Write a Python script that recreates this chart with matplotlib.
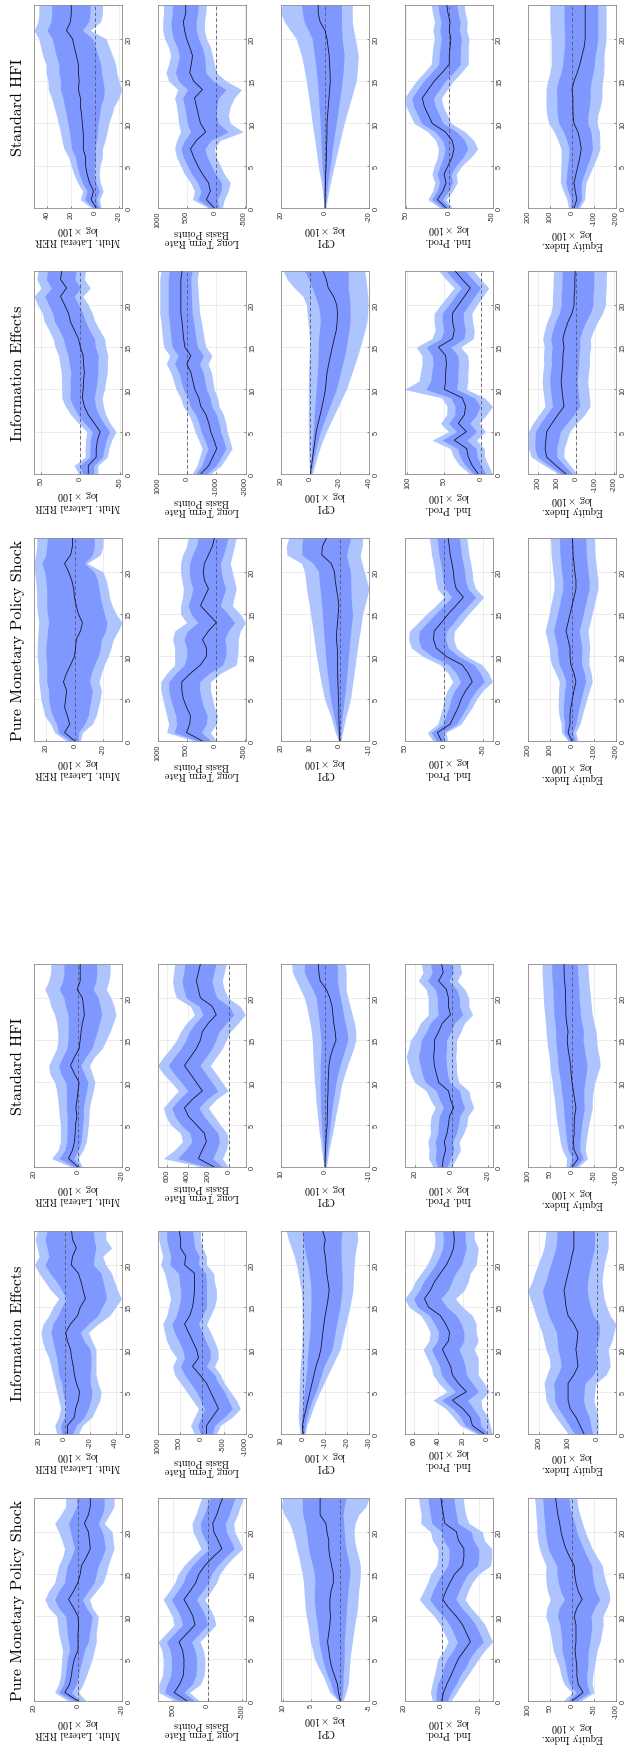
import numpy as np
import matplotlib.pyplot as plt

plt.rcParams['mathtext.fontset'] = 'cm'
plt.rcParams['axes.unicode_minus'] = False
plt.rcParams['font.family'] = ['Liberation Sans', 'DejaVu Sans']

# horizon (months) 0..24
horizon = np.arange(25)
h_ticks = [0, 5, 10, 15, 20]

# ---------------- sample A (lower half of the page) ----------------
# Pure Monetary Policy Shock
a_pm_rer_med = [0, 6, 3.8, 3, 2.5, 1.6, 0, 0, 0, -0.3, 0, 2, 4.3, 2, 0, -1, -1.6, -3.8, -5.6, -5.2, -4.7, -2.9, -4.7, -5.6, -5.6]
a_pm_rer_hi68 = [2, 8.8, 6.5, 5.8, 5.2, 4.9, 3.8, 4.3, 4.9, 5.2, 5.6, 8.8, 10.6, 8.8, 6.1, 5.6, 4.9, 3, 1.6, 2.5, 3.4, 4.3, 2.5, 0.7, 0.7]
a_pm_rer_lo68 = [-1, 3, 0.7, -0.2, -1, -2, -2.9, -4.7, -5.2, -5.9, -6.5, -3.8, -2, -4.7, -7.4, -8.3, -9.2, -11, -12.4, -11.9, -11, -9.2, -11, -11.9, -11.9]
a_pm_rer_hi90 = [4.3, 10.6, 8.8, 7.9, 7.6, 7.4, 7, 7.9, 8.8, 9.2, 9.7, 13.3, 15.1, 13.3, 10.6, 9.7, 8.8, 7, 6.1, 7.4, 8.8, 10.6, 7.9, 5.6, 5.6]
a_pm_rer_lo90 = [-3.8, -0.2, -2.3, -3.8, -5.2, -6.5, -7.4, -8.3, -8.3, -8.8, -9.2, -6.5, -5.2, -8.3, -11.4, -12.8, -13.7, -15, -16.4, -15.9, -15.5, -11.9, -14.3, -16.4, -16.4]

a_pm_ltr_med = [295, 480, 400, 350, 340, 340, 360, 410, 295, 180, 210, 270, 340, 250, 170, 125, 40, -75, -205, -150, -90, -75, -130, -170, -215]
a_pm_ltr_hi68 = [405, 620, 580, 530, 520, 520, 540, 590, 475, 360, 390, 450, 520, 430, 350, 305, 220, 105, -25, 30, 90, 105, 50, 10, -35]
a_pm_ltr_lo68 = [185, 340, 220, 170, 160, 160, 180, 230, 115, 0, 30, 90, 160, 70, -10, -55, -140, -255, -385, -330, -270, -255, -310, -350, -395]
a_pm_ltr_hi90 = [475, 700, 700, 650, 640, 640, 660, 710, 595, 480, 510, 570, 640, 550, 470, 425, 340, 225, 95, 150, 210, 225, 170, 130, 85]
a_pm_ltr_lo90 = [115, 260, 100, 50, 40, 40, 60, 110, -5, -120, -90, -30, 40, -50, -130, -175, -260, -375, -505, -450, -390, -375, -430, -470, -515]

a_pm_cpi_med = [0, 0.3, 0.5, 1, 1.5, 1.8, 2, 2.2, 2, 1.8, 1.7, 1.8, 1.8, 1.6, 1.2, 1.2, 1.5, 1.8, 2, 2, 2.3, 2.5, 3.5, 3.5, 3.5]
a_pm_cpi_hi68 = [0.2, 1.2, 1.6, 2.2, 2.7, 3.1, 3.4, 3.7, 3.8, 4, 4.2, 4.4, 4.5, 4.5, 4.4, 4.5, 4.8, 5.2, 5.5, 5.7, 5.9, 6.1, 6.5, 6.6, 6.6]
a_pm_cpi_lo68 = [-0.2, -0.4, -0.5, -0.5, -0.6, -0.7, -0.7, -0.7, -0.8, -0.9, -1, -1.1, -1.2, -1.3, -1.5, -1.7, -1.6, -1.3, -1, -0.8, -0.7, -0.6, -0.5, -0.7, -1]
a_pm_cpi_hi90 = [0.3, 1.8, 2.4, 3, 3.8, 4.5, 4.8, 5.2, 5.4, 5.6, 5.9, 6.1, 6.2, 6.3, 6.4, 6.6, 6.9, 7.2, 7.6, 7.9, 8.3, 8.8, 9.7, 10.3, 10]
a_pm_cpi_lo90 = [-0.5, -1, -1.4, -1.5, -1.6, -1.7, -1.9, -2.1, -2.3, -2.5, -2.8, -3, -3.1, -3.2, -3.4, -3.5, -3.5, -3.2, -2.8, -2.5, -2.4, -2.6, -3.2, -4.5, -5]

a_pm_ip_med = [0, -1, -2.8, -5, -7, -9, -12.3, -15.5, -13.4, -11.3, -8, -3.8, -0.6, -2.3, -4.5, -7, -11.3, -12, -12, -9, -8, -1.7, -1, -0.2, 0.4]
a_pm_ip_hi68 = [3, 3, 2.2, 0, -1, -3, -6.3, -8.5, -6.4, -4.3, -1, 3.2, 6.4, 4.7, 2.5, 0, -3.3, -4, -4, -1, 0, 5.3, 6, 6.8, 7.4]
a_pm_ip_lo68 = [-3, -5, -7.8, -10, -13, -15, -18.3, -22.5, -20.4, -18.3, -15, -10.8, -7.6, -9.3, -11.5, -14, -19.3, -20, -20, -17, -16, -8.7, -8, -7.2, -6.6]
a_pm_ip_hi90 = [5, 6, 5.2, 4, 3, 2, -1.3, -3.5, -1.4, 0.7, 4, 8.2, 12, 9.7, 7.5, 6, 2.7, 2, 2, 5, 6, 11.3, 11, 11.8, 12.4]
a_pm_ip_lo90 = [-5, -8, -10.8, -14, -17, -20, -23.3, -27.5, -25.4, -23.3, -20, -15.8, -12.6, -14.3, -16.5, -20, -26.3, -27, -27, -23, -22, -14.7, -13, -12.2, -11.6]

a_pm_eq_med = [0, -25, -14, -11, -11, -9, -7, -9, -9, -9, -5, -11, -23, -14, -9, -6, -5, 5, 14, 20, 25, 28, 32, 35, 37]
a_pm_eq_hi68 = [10, -10, 6, 11, 14, 18, 23, 23, 25, 27, 33, 29, 17, 26, 31, 34, 35, 45, 54, 58, 61, 62, 64, 65, 67]
a_pm_eq_lo68 = [-10, -40, -34, -33, -36, -36, -37, -41, -43, -45, -43, -51, -63, -54, -49, -46, -45, -35, -26, -18, -11, -6, 0, 5, 7]
a_pm_eq_hi90 = [20, 0, 18, 25, 29, 36, 43, 46, 49, 53, 60, 57, 49, 56, 59, 60, 59, 67, 74, 78, 80, 80, 82, 83, 85]
a_pm_eq_lo90 = [-20, -50, -46, -47, -51, -54, -57, -64, -67, -71, -70, -79, -86, -84, -77, -72, -69, -57, -46, -38, -30, -24, -18, -13, -11]

# Information Effects
a_ie_rer_med = [-2.2, -2.2, -7.7, -8.6, -10.8, -11.7, -9.2, -7.7, -6.8, -5.5, -4.6, -2.2, -0.9, -4.6, -10.2, -12.3, -16.3, -14.5, -12.9, -10.8, -5.2, -6.2, -9.2, -6.2, -5.5]
a_ie_rer_hi68 = [2.2, 3.1, 0, -0.9, 0, 1.5, 2.2, 4.6, 5.2, 6.2, 7.7, 9.2, 10.8, 9.2, 5.2, 2.2, -1.5, 2.2, 6.2, 11.4, 15.4, 12.3, 13.8, 15.4, 13.8]
a_ie_rer_lo68 = [-6.2, -9.2, -15.4, -18.5, -20.6, -21.5, -20, -20, -20.6, -20.6, -20, -15.4, -12.3, -18.5, -26.2, -29.2, -32.9, -31.7, -30.2, -28.6, -22.5, -23.1, -24.6, -23.1, -22.5]
a_ie_rer_hi90 = [6.2, 7.7, 4.6, 3.1, 4.6, 6.2, 7.7, 9.2, 10.8, 12.3, 15.4, 17.5, 18.5, 16.9, 12.3, 9.2, 4.6, 10.8, 15.4, 20, 23.7, 20, 21.5, 23.1, 21.5]
a_ie_rer_lo90 = [-10.8, -13.8, -21.5, -24.6, -27.7, -28.6, -26.2, -24.6, -24.6, -24.6, -24.6, -21.5, -18.5, -26.2, -35.4, -40, -44.6, -41.5, -39.1, -36.9, -32.3, -29.8, -36.9, -32.3, -32.3]

a_ie_ltr_med = [-113, -113, -249, -385, -294, -204, -113, 41, 204, 68, 113, 204, 294, 385, 267, 204, 176, 158, 158, 158, 385, 357, 475, 475, 502]
a_ie_ltr_hi68 = [23, 86, 5, -68, 23, 113, 249, 385, 475, 385, 430, 520, 611, 674, 566, 520, 475, 475, 502, 520, 720, 701, 747, 792, 792]
a_ie_ltr_lo68 = [-249, -294, -520, -701, -611, -520, -385, -294, -113, -204, -186, -95, -23, 68, -23, -113, -113, -113, -113, -95, 68, 50, 158, 176, 204]
a_ie_ltr_hi90 = [158, 249, 158, 68, 204, 339, 475, 611, 656, 566, 701, 792, 837, 882, 792, 747, 701, 747, 792, 837, 928, 882, 928, 973, 973]
a_ie_ltr_lo90 = [-339, -430, -701, -882, -792, -656, -520, -430, -294, -385, -367, -294, -204, -113, -204, -294, -339, -339, -294, -276, -113, -113, -23, 23, 23]

a_ie_cpi_med = [0, 0.3, -0.5, -1.4, -2.3, -3.2, -4.1, -5, -5.9, -7.2, -8.1, -8.6, -9, -9.5, -10.1, -10.8, -11.4, -11.9, -11.4, -10.8, -10.5, -10.1, -9.5, -10.1, -9]
a_ie_cpi_hi68 = [0.7, 0.8, 0.7, 0.2, -0.2, -0.5, -1, -1.4, -1.8, -2, -2.3, -2.7, -3.1, -3.3, -3.4, -3.6, -3.6, -3.6, -3.4, -2.9, -2.3, -1.4, -0.7, 0, 0.4]
a_ie_cpi_lo68 = [-0.5, -1, -1.8, -2.8, -4.2, -5.9, -7.1, -8.3, -9.5, -11.4, -13.2, -13.9, -14.6, -15.3, -16, -16.8, -17.3, -17.7, -17.7, -17.7, -17.5, -17.3, -17.3, -17.3, -17.7]
a_ie_cpi_hi90 = [1.3, 1.8, 2.2, 2, 1.8, 1.8, 1.6, 1.5, 1.3, 1, 0.7, 0.5, 0.4, 0.4, 0.4, 0.4, 0.6, 0.9, 1.5, 2.2, 3, 4, 5.3, 6.7, 7.6]
a_ie_cpi_lo90 = [-1, -1.7, -3.2, -4.5, -6, -7.7, -9.5, -11.3, -13.2, -15, -16.8, -17.7, -18.6, -19.5, -20.4, -21.3, -22, -22.7, -22.9, -23, -23.3, -23.6, -24.2, -24.9, -24.6]

a_ie_ip_med = [2.3, 12, 13.8, 20, 28.5, 17, 23.6, 28.5, 30, 33.4, 36.7, 31.8, 30.8, 34, 38.4, 48.2, 51.5, 46.6, 43.3, 38.4, 33.4, 30, 27.5, 26.9, 27.5]
a_ie_ip_hi68 = [6.3, 18, 21.8, 28, 37.5, 26, 32.6, 37.5, 39, 42.4, 45.7, 40.8, 39.8, 43, 47.4, 57.2, 60.5, 55.6, 52.3, 47.4, 42.4, 39, 36.5, 35.9, 36.5]
a_ie_ip_lo68 = [-1, 5, 6, 11, 16, 7, 12, 17, 18, 20, 23, 19, 19, 21, 25, 33, 38, 32, 29, 26, 21, 19, 17, 18, 18]
a_ie_ip_hi90 = [8.3, 22, 27.8, 34, 44.5, 33, 39.6, 44.5, 46, 49.4, 52.7, 47.8, 46.8, 50, 54.4, 64.2, 68, 62.6, 59.3, 54.4, 49.4, 46, 43.5, 42.9, 43.5]
a_ie_ip_lo90 = [-4.6, -2.6, -1, 3.9, 5, -2, 2.3, 7.2, 7.2, 7.2, 10.5, 7.2, 8.9, 8.9, 12, 20, 26, 18.7, 15.4, 13.8, 8.9, 8, 7.2, 10.5, 10.5]

a_ie_eq_med = [44, 58, 72, 92, 99, 99, 99, 79, 65, 68, 72, 68, 65, 79, 99, 106, 109, 113, 106, 99, 92, 86, 79, 79, 79]
a_ie_eq_hi68 = [77, 95, 113, 133, 145, 146, 149, 135, 123, 126, 134, 136, 139, 152, 166, 174, 182, 187, 176, 168, 159, 150, 141, 138, 137]
a_ie_eq_lo68 = [15, 21, 26, 39, 46, 44, 41, 12, -2, 1, 5, -4, -9, -8, 12, 22, 29, 33, 32, 27, 22, 15, 8, 8, 8]
a_ie_eq_hi90 = [99, 120, 141, 161, 175, 178, 182, 172, 161, 164, 175, 182, 189, 200, 210, 219, 230, 237, 223, 214, 203, 192, 182, 178, 175]
a_ie_eq_lo90 = [-4, -4, -4, 3, 10, 7, 3, -32, -46, -43, -39, -52, -59, -66, -46, -34, -25, -21, -18, -21, -25, -32, -39, -39, -39]

# Standard HFI
a_hf_rer_med = [0, 4.3, 2.5, 1.6, 1.3, 1.1, 0.5, 1, 0.4, 0, -0.5, 1.6, 3.4, 1.6, -0.5, -1, -1.4, -2, -2.9, -2.5, -2, 0.4, -1, -1, -1]
a_hf_rer_hi68 = [1.6, 8.5, 6, 5.1, 5, 4.9, 4.9, 5.3, 5.2, 5.3, 5.6, 7.8, 8.8, 7, 5.1, 4.6, 4.4, 4.4, 4.5, 5.7, 6.4, 8.5, 6.9, 6.4, 6.4]
a_hf_rer_lo68 = [-1.1, 1.9, -0.1, -1.4, -1.8, -2.1, -2.5, -2.4, -3.1, -3.9, -4.5, -2.9, -1.3, -3.4, -6.3, -7.5, -8.7, -9.7, -10.8, -10.1, -9.2, -6.9, -8.2, -8.5, -8.5]
a_hf_rer_hi90 = [3, 12, 9, 8, 8, 8, 8.5, 8.8, 9.2, 9.7, 10.6, 12.8, 13.3, 11.5, 9.7, 9.2, 9.2, 9.7, 10.6, 12.4, 13.3, 15.1, 13.3, 12.4, 12.4]
a_hf_rer_lo90 = [-2, 0, -2.3, -3.8, -4.3, -4.7, -5, -5.2, -6, -7, -7.7, -6.5, -5.2, -7.4, -11, -12.8, -14.6, -16, -17.3, -16.4, -15, -12.8, -14.1, -14.6, -14.6]

a_hf_ltr_med = [142, 296, 258, 219, 239, 316, 393, 431, 354, 258, 316, 373, 431, 373, 316, 277, 258, 200, 123, 162, 277, 296, 316, 296, 277]
a_hf_ltr_hi68 = [212, 499, 419, 358, 378, 466, 524, 553, 481, 397, 461, 530, 588, 530, 466, 416, 385, 327, 250, 289, 416, 439, 455, 439, 427]
a_hf_ltr_lo68 = [62, 157, 119, 92, 107, 177, 242, 292, 215, 108, 165, 223, 281, 223, 165, 127, 96, 27, -46, 0, 116, 146, 165, 146, 127]
a_hf_ltr_hi90 = [258, 635, 527, 450, 470, 566, 612, 635, 566, 489, 558, 635, 693, 635, 566, 508, 470, 412, 335, 373, 508, 535, 547, 535, 527]
a_hf_ltr_lo90 = [8, 65, 27, 8, 19, 85, 142, 200, 123, 8, 65, 123, 181, 123, 65, 27, -12, -89, -158, -108, 8, 46, 65, 46, 27]

a_hf_cpi_med = [0, 0, -0.1, -0.2, -0.3, -0.5, -0.5, -0.6, -0.6, -0.7, -0.7, -0.8, -0.9, -1.2, -1.8, -2.5, -2.3, -2, -1.8, -1.6, -1.1, -0.3, 1.1, 1.4, 1.5]
a_hf_cpi_hi68 = [0.1, 0.3, 0.4, 0.5, 0.7, 0.8, 0.9, 1, 1, 1.1, 1.1, 1.1, 1.1, 1, 0.9, 0.9, 1.1, 1.3, 1.5, 1.8, 2, 2.8, 3.8, 4.7, 4.7]
a_hf_cpi_lo68 = [-0.1, -0.3, -0.5, -0.7, -0.9, -1.2, -1.4, -1.6, -1.9, -2.2, -2.5, -2.9, -3.4, -4, -4.6, -5.2, -5, -4.6, -4.2, -3.9, -3.5, -3.1, -2.8, -2.8, -2.8]
a_hf_cpi_hi90 = [0.2, 0.5, 0.8, 1, 1.3, 1.5, 1.7, 1.9, 2.1, 2.2, 2.4, 2.5, 2.6, 2.7, 2.8, 2.9, 3.1, 3.4, 3.8, 4.2, 4.7, 5.6, 6.5, 7.4, 7.6]
a_hf_cpi_lo90 = [-0.3, -0.6, -0.9, -1.3, -1.7, -2.1, -2.4, -2.8, -3.2, -3.5, -3.9, -4.5, -5.1, -5.8, -6.5, -7, -7, -6.7, -6.2, -5.7, -5.2, -4.8, -4.8, -4.8, -4.6]

a_hf_ip_med = [5, 4.5, 3.2, 3.9, 2.4, 1.7, 1.1, -1.1, 0.6, 1.7, 7, 8.2, 9.3, 9.7, 9.3, 9.3, 7, 5, 0.6, 1.7, 1.7, 2.8, 7, 4.5, 5.4]
a_hf_ip_hi68 = [7.7, 8.9, 8.2, 8.9, 7.4, 7.2, 6.6, 4.4, 6.6, 8.3, 14.2, 15.9, 17, 18, 17, 16.5, 13.6, 11.6, 7.2, 7.7, 7.7, 8.8, 13, 10.5, 11.4]
a_hf_ip_lo68 = [2.3, 0.6, -1.2, -0.5, -2.6, -3.8, -4.4, -7.1, -5.4, -4.3, 1, 2.2, 2.7, 3.1, 2.7, 2.7, 0.4, -1.6, -6, -4.3, -4.3, -2.7, 1.5, -1, -0.1]
a_hf_ip_hi90 = [10, 12.5, 12.2, 12.9, 11.4, 11.7, 11.1, 8.9, 11.6, 13.7, 20, 22.2, 23.3, 24.7, 23.3, 22.3, 19, 17, 12.6, 12.7, 12.7, 13.8, 18, 15.5, 16.4]
a_hf_ip_lo90 = [0, -2.5, -4.8, -4.1, -6.6, -8.3, -8.9, -12.1, -10.4, -9.3, -4, -2.8, -2.7, -2.3, -2.7, -2.7, -5, -7, -11.4, -9.3, -9.3, -7.2, -3, -5.5, -4.6]

a_hf_eq_med = [0, -14, -5, -3, -5, -5, -6, -9, -6, -3, 0, 2, 3, 6, 9, 11, 9, 12, 14, 14, 15, 15, 17, 18, 18]
a_hf_eq_hi68 = [7, -1, 9, 12, 14, 16, 18, 19, 21, 24, 26, 29, 32, 33, 35, 37, 37, 39, 41, 42, 43, 43, 45, 46, 46]
a_hf_eq_lo68 = [-7, -25, -18, -18, -20, -22, -25, -28, -27, -27, -29, -32, -34, -31, -28, -25, -26, -22, -19, -18, -16, -16, -14, -13, -12]
a_hf_eq_hi90 = [14, 12, 22, 27, 30, 33, 36, 38, 40, 43, 45, 48, 50, 52, 55, 57, 59, 60, 62, 64, 65, 66, 67, 68, 68]
a_hf_eq_lo90 = [-14, -35, -30, -32, -35, -38, -42, -46, -46, -48, -52, -58, -64, -62, -58, -56, -55, -50, -46, -44, -42, -40, -38, -37, -36]

# ---------------- sample B (upper half of the page) ----------------
# Pure Monetary Policy Shock
b_pm_rer_med = [0, 7.2, 3.6, 5.3, 7.2, 6.4, 5.8, 8, 5.8, 3, 0.3, -0.5, -1, -3.9, -5.3, -2.5, -1, 0.3, 0.8, 2.2, 4.4, 7.2, 3, 1.7, 1.7]
b_pm_rer_hi68 = [3.1, 11.4, 12.8, 15.6, 17.5, 18.3, 18.3, 19.7, 19.7, 19.7, 20.3, 20.3, 19.7, 19.2, 18.3, 19.2, 19.7, 19.7, 19.7, 20.3, 21.1, 23.1, 20.3, 19.7, 19.2]
b_pm_rer_lo68 = [-2.5, -2.5, -6.7, -9.4, -10.3, -11.4, -12.2, -10.3, -11.4, -13.6, -16.4, -17.8, -18.6, -21.4, -22.5, -20.6, -19.2, -17.8, -16.9, -15.8, -13.6, -6.7, -12.2, -13.6, -13.6]
b_pm_rer_hi90 = [5.8, 14.2, 16.9, 21.1, 22.5, 23.9, 24.4, 25.3, 25.3, 25.8, 26.4, 26.4, 26.1, 25.8, 25.3, 26.1, 26.7, 26.7, 26.9, 27.5, 28.1, 28.6, 27.5, 26.7, 26.7]
b_pm_rer_lo90 = [-3.9, -5.3, -12.2, -15, -16.4, -17.8, -18.6, -16.9, -18.6, -20.6, -23.3, -25.3, -26.9, -30.3, -33.1, -28.9, -26.1, -24.2, -23.3, -21.9, -19.7, -8.6, -17.8, -19.7, -19.7]

b_pm_ltr_med = [226, 500, 445, 432, 500, 555, 582, 582, 432, 260, 158, 158, 226, 123, -14, 123, 260, 192, 123, 192, 212, 192, 123, 55, 21]
b_pm_ltr_hi68 = [311, 712, 670, 686, 734, 776, 807, 807, 686, 536, 497, 497, 545, 484, 305, 421, 473, 425, 391, 434, 454, 447, 399, 331, 297]
b_pm_ltr_lo68 = [77, 245, 160, 143, 203, 245, 276, 276, 113, -122, -174, -182, -156, -217, -329, -217, -80, -127, -174, -127, -98, -84, -132, -179, -213]
b_pm_ltr_hi90 = [363, 842, 808, 842, 877, 911, 945, 945, 842, 705, 705, 705, 740, 705, 500, 603, 603, 568, 555, 582, 603, 603, 568, 500, 466]
b_pm_ltr_lo90 = [-14, 89, -14, -34, 21, 55, 89, 89, -82, -356, -377, -390, -390, -425, -514, -425, -288, -322, -356, -322, -288, -253, -288, -322, -356]

b_pm_cpi_med = [0, 0.1, 0.2, 0.3, 0.3, 0.4, 0.5, 0.6, 0.7, 0.7, 0.7, 0.8, 1.1, 1, 0.7, 0.5, 0.3, 0.6, 1.1, 1.5, 1.8, 2.9, 6.1, 5.9, 4.5]
b_pm_cpi_hi68 = [0.2, 0.8, 1.4, 2, 2.6, 3.1, 3.5, 3.8, 4.2, 4.5, 4.8, 5, 5.3, 5.5, 5.7, 5.9, 6.1, 6.4, 6.7, 7, 7.2, 9, 12.9, 12.9, 12.6]
b_pm_cpi_lo68 = [-0.2, -0.4, -0.6, -0.9, -1.2, -1.6, -1.9, -2.2, -2.5, -2.7, -3, -3.3, -3.5, -3.8, -4.1, -4.4, -4.1, -3.9, -3.8, -3.8, -3.7, -3, -2.3, -3, -3.7]
b_pm_cpi_hi90 = [0.4, 1.5, 2.3, 3.1, 4.2, 5.2, 5.8, 6.4, 6.9, 7.4, 7.9, 8.3, 8.7, 9.1, 9.5, 9.9, 10.3, 10.8, 11.3, 11.6, 12, 13, 18, 18.2, 17.4]
b_pm_cpi_lo90 = [-0.4, -1, -1.6, -2.2, -3, -3.7, -4.1, -4.5, -4.9, -5.3, -5.7, -6.1, -6.5, -7, -7.4, -7.8, -8.6, -9.3, -10, -9.2, -8.4, -7.6, -7, -7.7, -7.8]

b_pm_ip_med = [3.6, 8.7, -7.7, -12.8, -18, -22, -28, -36, -31, -23, -2.6, 10.3, 13.8, 12.8, 3.6, -5, -15, -24.6, -15.4, -12.8, -11.8, -10, -7.7, -6.5, -5]
b_pm_ip_hi68 = [10.2, 16.5, 1.9, -2, -6, -8.8, -13.6, -21, -15.4, -6.2, 15.4, 29.5, 33, 32, 21.6, 11.8, 0.6, -9.6, -1, 1.6, 2.6, 4.4, 6.7, 7.9, 9.4]
b_pm_ip_lo68 = [-1.2, 2.1, -16.1, -22.4, -28.8, -34, -41.2, -51.6, -46.6, -38.6, -18.2, -5.3, -1.8, -2.8, -12, -20.6, -30.6, -40.2, -30.4, -27.2, -26.2, -24.4, -22.1, -20.9, -19.4]
b_pm_ip_hi90 = [14.6, 21.7, 8.3, 5.2, 2, 0, -4, -11, -5, 5, 27.4, 42.3, 45.8, 44.8, 33.6, 23, 11, 0.4, 8.6, 11.2, 12.2, 14, 16.3, 17.5, 19]
b_pm_ip_lo90 = [-4.4, -2.3, -21.7, -28.8, -36, -42, -50, -62, -57, -49, -28.6, -15.7, -12.2, -13.2, -22.4, -31, -41, -50.6, -40.4, -36.8, -35.8, -34, -31.7, -30.5, -29]

b_pm_eq_med = [0, 18, 9, 9, 5, -2, -9, -18, -9, 5, 9, 9, 18, 27, 18, 9, 0, -9, -18, -18, -13, -9, -5, -4, -2]
b_pm_eq_hi68 = [11, 36, 33, 39, 40, 36, 33, 28, 40, 58, 64, 66, 75, 84, 75, 66, 58, 50, 42, 42, 47, 51, 55, 56, 58]
b_pm_eq_lo68 = [-16, -3, -18, -24, -32, -42, -51, -62, -56, -44, -43, -45, -39, -33, -42, -51, -60, -69, -78, -78, -73, -69, -65, -64, -62]
b_pm_eq_hi90 = [18, 48, 49, 59, 63, 62, 61, 58, 73, 93, 101, 104, 113, 122, 113, 104, 97, 89, 82, 82, 87, 91, 95, 96, 98]
b_pm_eq_lo90 = [-27, -17, -36, -46, -57, -68, -79, -92, -87, -77, -77, -81, -77, -73, -82, -91, -100, -109, -118, -118, -113, -109, -105, -104, -102]

# Information Effects
b_ie_rer_med = [-10, -10, -20, -20, -21.5, -25, -17.5, -10, -5, -2.5, -3.5, -4, -5, -4, -3.5, 0, 2.5, 7.5, 12.5, 15, 20, 25, 17.5, 25, 23.5]
b_ie_rer_hi68 = [-3, 1, -12, -12, -12.5, -15, -5.5, 3, 9, 13.5, 12.5, 13, 12, 14, 15.5, 19, 21.5, 26.5, 32.5, 35, 40, 45, 36.5, 43, 41.5]
b_ie_rer_lo68 = [-17, -17, -28, -30, -32.5, -37, -29.5, -23, -19, -17.5, -19.5, -21, -22, -22, -22.5, -19, -17.5, -11.5, -6.5, -3, 2, 8, -0.5, 7, 5.5]
b_ie_rer_hi90 = [2, 8, -6, -6, -6.5, -8, 2.5, 12, 19, 23.5, 23.5, 24, 24, 26, 27.5, 32, 34.5, 39.5, 45.5, 48, 54, 58.5, 49.5, 55, 53.5]
b_ie_rer_lo90 = [-22, -22, -34, -36, -39.5, -45, -37.5, -32, -29, -27.5, -30.5, -32, -34, -34, -34.5, -32, -30.5, -24.5, -18.5, -15, -10, -3, -12.5, -5, -6.5]

b_ie_ltr_med = [-476, -748, -884, -1020, -925, -816, -748, -653, -476, -408, -272, -204, -136, 0, -136, 68, 109, 136, 163, 204, 204, 204, 204, 204, 163]
b_ie_ltr_hi68 = [-296, -508, -614, -720, -613, -492, -412, -305, -116, -36, 112, 192, 272, 420, 296, 500, 541, 568, 595, 636, 636, 636, 636, 636, 595]
b_ie_ltr_lo68 = [-674, -1000, -1172, -1332, -1249, -1152, -1096, -1013, -848, -792, -668, -612, -556, -432, -568, -364, -311, -272, -233, -180, -168, -156, -144, -132, -173]
b_ie_ltr_hi90 = [-176, -348, -434, -520, -405, -276, -188, -73, 124, 212, 368, 456, 544, 700, 584, 788, 829, 856, 883, 924, 924, 924, 924, 924, 883]
b_ie_ltr_lo90 = [-806, -1168, -1364, -1540, -1465, -1376, -1328, -1253, -1096, -1048, -932, -884, -836, -720, -856, -652, -591, -544, -497, -436, -416, -396, -376, -356, -397]

b_ie_cpi_med = [0, -0.8, -1.6, -2.4, -3.2, -4, -5.3, -6.7, -8, -9.2, -10.3, -10.8, -11.4, -12.5, -13.7, -15, -16.3, -17.7, -18.3, -18.5, -18, -15.8, -12.2, -10.9, -8.7]
b_ie_cpi_hi68 = [0, -0.3, -0.6, -0.9, -1.3, -1.9, -2.3, -2.7, -3.1, -3.5, -4, -4.4, -4.8, -5.1, -5.3, -5.4, -5.6, -6.3, -6.8, -6.5, -5.4, -3.5, -1.4, 1, 4]
b_ie_cpi_lo68 = [-0.5, -1.5, -2.6, -3.8, -5.2, -6.8, -8.8, -11, -13.2, -15.5, -17.7, -19.2, -20.6, -22, -23.3, -24.5, -25.5, -26.3, -27, -27.2, -27, -26.5, -25.8, -25.8, -25.8]
b_ie_cpi_hi90 = [0.5, 0.8, 1, 1.2, 1.3, 1.4, 1.4, 1.4, 1.4, 1.4, 1.4, 1.3, 1.2, 1, 0.8, 0.5, 0.6, 1, 1.6, 2.2, 2.7, 5, 10.9, 15.8, 18.5]
b_ie_cpi_lo90 = [-1.4, -3, -4.6, -6.4, -8.5, -10.9, -13.6, -16.3, -19.1, -21.8, -24.5, -26.5, -28.5, -30.4, -32.3, -34, -35.7, -37.2, -38.6, -39.1, -39.4, -39.2, -38.6, -37.9, -37]

b_ie_ip_med = [4.3, 12.4, 17.7, 20, 36.6, 20.4, 31.2, 23, 21.5, 25.8, 50, 48.4, 48.4, 47.3, 48.4, 58, 39, 36.6, 39, 39, 31, 23, 15, 25.8, 35.5]
b_ie_ip_hi68 = [10.3, 21.8, 28.7, 32, 53.1, 33.4, 44.2, 36, 35.5, 41.2, 75, 68.4, 67.4, 65.3, 66.4, 74.5, 54.4, 50.9, 53, 53, 44, 36, 27, 37.8, 47.5]
b_ie_ip_lo68 = [-6.2, 0.4, 5.7, 7, 20.1, 6.4, 15.8, 6.5, 1.5, 9.3, 33.5, 31.9, 31.9, 30.8, 31.9, 41.5, 23.6, 21.7, 24, 24.7, 17.2, 9.3, 1.2, 12, 21.8]
b_ie_ip_hi90 = [15.3, 29.4, 37.7, 42, 66.6, 44.4, 55.2, 47, 46.5, 53.8, 104, 84.4, 82.4, 80.3, 80.4, 88, 67, 62.6, 64, 64, 55, 46, 37, 47.8, 57.5]
b_ie_ip_lo90 = [-14.7, -9.6, -4.3, -4, 6.6, -5.6, 3.2, -7, -15, -4.2, 20, 18.4, 18.4, 17.3, 18.4, 28, 11, 9.6, 12, 13, 6, -2, -10, 0.8, 10.5]

b_ie_eq_med = [53, 105, 154, 162, 158, 154, 126, 95, 63, 69, 74, 78, 74, 69, 69, 63, 69, 57, 42, 21, 10, 10, 6, 6, 4]
b_ie_eq_hi68 = [77, 141, 202, 216, 215, 213, 186, 155, 123, 129, 134, 138, 134, 129, 130, 125, 133, 122, 108, 88, 78, 78, 74, 74, 72]
b_ie_eq_lo68 = [17, 60, 100, 102, 92, 82, 48, 11, -19, -15, -10, -6, -10, -15, -15, -21, -18, -33, -51, -75, -89, -89, -93, -93, -95]
b_ie_eq_hi90 = [93, 165, 234, 250, 250, 250, 226, 195, 163, 169, 174, 178, 174, 169, 171, 167, 175, 165, 152, 133, 124, 124, 120, 120, 118]
b_ie_eq_lo90 = [-7, 30, 64, 62, 48, 34, -4, -45, -74, -71, -66, -62, -66, -71, -71, -77, -76, -93, -113, -139, -155, -155, -159, -159, -161]

# Standard HFI
b_hf_rer_med = [-1, 3.3, 1.3, 4.6, 6.6, 7.9, 7.9, 9.9, 9.6, 9.9, 10.6, 11.2, 12.2, 12.2, 13.9, 13.2, 13.9, 13.9, 15.5, 17.2, 18.8, 23.8, 20.5, 19.8, 19.8]
b_hf_rer_hi68 = [1.4, 8.7, 6.7, 10.6, 13.2, 15.1, 16.3, 19.5, 20.4, 21.3, 22.6, 23.8, 25.4, 26.6, 28.9, 28.8, 30.1, 30.1, 32.3, 34, 35.6, 40, 36.7, 36, 36]
b_hf_rer_lo68 = [-3.4, -0.9, -3.5, -0.8, 0.6, 0.7, -0.5, 0.3, -1.2, -2.1, -2.6, -3.8, -4.6, -7, -7.7, -6.6, -5.3, -4.7, -2.5, -0.2, 2, 10.6, 5.5, 4.2, 4.2]
b_hf_rer_hi90 = [3, 12.3, 10.3, 14.6, 17.6, 19.9, 21.9, 25.9, 27.6, 28.9, 30.6, 32.2, 34.2, 36.2, 38.9, 39.2, 40.9, 40.9, 43.5, 45.2, 46.8, 50.8, 47.5, 46.8, 46.8]
b_hf_rer_lo90 = [-5, -3.7, -6.7, -4.4, -3.4, -4.1, -6.1, -6.1, -8.4, -10.1, -11.4, -13.8, -15.8, -19.8, -22.1, -19.8, -18.1, -17.1, -14.5, -11.8, -9.2, 4, -4.5, -6.2, -6.2]

b_hf_ltr_med = [20, 158, 89, 123, 226, 308, 377, 431, 329, 171, 260, 295, 329, 363, 226, 377, 445, 418, 397, 445, 500, 534, 555, 514, 514]
b_hf_ltr_hi68 = [82, 301, 253, 308, 411, 485, 553, 595, 534, 430, 486, 509, 534, 568, 481, 636, 692, 652, 623, 663, 726, 760, 769, 744, 744]
b_hf_ltr_lo68 = [-62, -27, -96, -103, 0, 74, 142, 185, 82, -215, -48, -13, -20, -48, -177, 40, 170, 180, 192, 231, 295, 329, 337, 308, 300]
b_hf_ltr_hi90 = [123, 397, 363, 432, 534, 603, 671, 705, 671, 603, 637, 651, 671, 705, 651, 808, 856, 808, 774, 808, 877, 911, 911, 897, 897]
b_hf_ltr_lo90 = [-116, -150, -219, -253, -151, -82, -14, 21, -82, -473, -253, -219, -253, -322, -445, -185, -14, 21, 55, 89, 158, 192, 192, 171, 158]

b_hf_cpi_med = [0, 0, -0.1, -0.2, -0.3, -0.5, -0.6, -0.7, -0.8, -0.9, -0.9, -1.2, -1.5, -1.8, -2.1, -2.4, -2.3, -2.1, -1.9, -1.4, -0.9, 0, 2.2, 3.1, 3.1]
b_hf_cpi_hi68 = [0.2, 0.4, 0.6, 0.8, 1, 1.3, 1.5, 1.7, 1.9, 2, 2.2, 2.4, 2.7, 2.9, 3.2, 3.5, 3.9, 4.3, 4.8, 5.3, 5.8, 7.6, 9.5, 10.2, 10.7]
b_hf_cpi_lo68 = [-0.2, -0.5, -0.8, -1.2, -1.7, -2.4, -2.9, -3.4, -3.9, -4.5, -5.1, -5.7, -6.2, -6.8, -7.3, -7.8, -8.2, -8.5, -8.7, -8.3, -7.8, -7.6, -7.5, -7.5, -7.5]
b_hf_cpi_hi90 = [0.3, 0.7, 1.2, 1.7, 2.4, 3.1, 3.6, 4.1, 4.6, 5.2, 5.8, 6.3, 6.8, 7.4, 7.9, 8.5, 9.2, 9.9, 10.7, 11.9, 13.1, 15.8, 18.5, 20, 19.5]
b_hf_cpi_lo90 = [-0.4, -1, -1.7, -2.5, -3.3, -4.2, -5.1, -6, -6.9, -7.8, -8.7, -9.8, -10.9, -12, -13.1, -14.2, -14.6, -14.9, -15.1, -14.5, -13.8, -13, -12.4, -12.4, -12.4]

b_hf_ip_med = [3.7, 13.8, 7.3, 3.7, 6, 1.4, -3.2, -5.5, -3.2, 4.6, 19.7, 24.3, 28.9, 31.2, 24.3, 17.4, 8.3, 0, 0, -0.9, -1.8, 0, -0.9, 1.4, 2.8]
b_hf_ip_hi68 = [7.7, 20.2, 14.3, 11.2, 14, 10.7, 6.7, 4.9, 7.8, 16.2, 31.9, 36.5, 41.1, 43.2, 36.5, 29.6, 20.5, 12.2, 11.6, 10.7, 9.2, 11, 9.5, 11.8, 13.2]
b_hf_ip_lo68 = [-0.3, 8, 0.9, -3.8, -2, -7.9, -16, -21.5, -17.7, -8.7, 6.9, 11.5, 16.1, 18.4, 11.5, 4.6, -4.5, -12.8, -12.8, -13.1, -14, -11.6, -12.5, -10.2, -8.8]
b_hf_ip_hi90 = [10.7, 24.8, 19.3, 16.7, 20, 17.4, 13.8, 12.5, 15.8, 24.6, 40.7, 45.3, 49.9, 51.8, 45.3, 38.4, 29.3, 21, 20, 19.1, 17.2, 19, 17.1, 19.4, 20.8]
b_hf_ip_lo90 = [-3.3, 3.8, -3.7, -9.3, -8, -14.6, -25.2, -33, -28.2, -18.4, -2.3, 2.3, 6.9, 9.2, 2.3, -4.6, -13.7, -22, -22, -21.9, -22.8, -20, -20.9, -18.6, -17.2]

b_hf_eq_med = [-9, -22, -15, -9, -18, -27, -36, -42, -36, -27, -9, -5, -4, -4, 0, -9, -24, -36, -45, -55, -60, -60, -60, -60, -60]
b_hf_eq_hi68 = [6, 5, 18, 28, 24, 20, 15, 13, 24, 38, 60, 67, 69, 69, 71, 63, 50, 42, 39, 35, 33, 35, 36, 36, 36]
b_hf_eq_lo68 = [-24, -43, -42, -42, -55, -69, -83, -93, -90, -86, -72, -72, -79, -83, -82, -87, -96, -102, -105, -112, -117, -117, -117, -117, -117]
b_hf_eq_hi90 = [16, 23, 40, 53, 52, 51, 49, 50, 64, 81, 106, 115, 118, 118, 118, 111, 100, 94, 95, 95, 95, 98, 100, 100, 100]
b_hf_eq_lo90 = [-34, -57, -60, -64, -80, -97, -114, -127, -126, -125, -114, -117, -129, -136, -136, -139, -144, -146, -145, -150, -155, -155, -155, -155, -155]

# axis ranges (left = larger value) and tick values per panel
a_pm_xlim = [(20, -20), (720, -545), (10.3, -5), (20, -27.4), (100, -100)]
a_pm_ticks = [[20, 0, -20], [500, 0, -500], [10, 5, 0, -5], [20, 0, -20], [100, 50, 0, -50, -100]]
a_ie_xlim = [(24, -45), (1000, -1000), (10, -30), (68, -4.6), (237, -66)]
a_ie_ticks = [[20, 0, -20, -40], [1000, 500, 0, -500, -1000], [10, 0, -10, -20, -30], [60, 40, 20, 0], [200, 100, 0]]
a_hf_xlim = [(20, -20), (692, -160), (10, -10), (25.5, -22.2), (100, -100)]
a_hf_ticks = [[20, 0, -20], [600, 400, 200, 0], [10, 0, -10], [20, 0, -20], [100, 50, 0, -50, -100]]
b_pm_xlim = [(28.6, -33), (1000, -515), (20, -10), (51, -62), (200, -200)]
b_pm_ticks = [[20, 0, -20], [1000, 500, 0, -500], [20, 10, 0, -10], [50, 0, -50], [200, 100, 0, -100, -200]]
b_ie_xlim = [(58.5, -52.5), (1000, -2000), (20, -40), (104, -15), (252, -210)]
b_ie_ticks = [[50, 0, -50], [1000, 0, -1000, -2000], [20, 0, -20, -40], [100, 50, 0], [200, 100, 0, -100, -200]]
b_hf_xlim = [(50.8, -22.4), (1000, -515), (20, -20), (51.8, -50), (200, -200)]
b_hf_ticks = [[40, 20, 0, -20], [1000, 500, 0, -500], [20, 0, -20], [50, 0, -50], [200, 100, 0, -100, -200]]

variables = ['rer', 'ltr', 'cpi', 'ip', 'eq']
var_labels = ['Mult. Lateral RER\n$\\log\\times100$', 'Long Term Rate\nBasis Points',
              'CPI\n$\\log\\times100$', 'Ind. Prod.\n$\\log\\times100$', 'Equity Index.\n$\\log\\times100$']
col_titles = {'pm': 'Pure Monetary Policy Shock', 'ie': 'Information Effects', 'hf': 'Standard HFI'}

LIGHT = '#adc4ff'
DARK = '#7f98ff'
W, H = 630, 1749

fig = plt.figure(figsize=(6.3, 17.49), dpi=100)

# page is landscape turned 90 degrees: each column block runs down the page
block_top = {'b_hf': 6, 'b_ie': 272, 'b_pm': 539, 'a_hf': 965, 'a_ie': 1232, 'a_pm': 1499}
row_left = [34, 157.5, 281, 404.5, 528]
pw, ph = 88, 203

g = globals()
for blk, top in block_top.items():
    xlims = g[blk + '_xlim']
    xticks = g[blk + '_ticks']
    for r, var in enumerate(variables):
        pre = blk + '_' + var + '_'
        med, lo68, hi68 = g[pre + 'med'], g[pre + 'lo68'], g[pre + 'hi68']
        lo90, hi90 = g[pre + 'lo90'], g[pre + 'hi90']
        x0 = row_left[r]
        ax = fig.add_axes([x0 / W, 1 - (top + ph) / H, pw / W, ph / H])
        ax.fill_betweenx(horizon, lo90, hi90, color=LIGHT, lw=0, zorder=1)
        ax.fill_betweenx(horizon, lo68, hi68, color=DARK, lw=0, zorder=2)
        ax.axvline(0, color='#555566', ls=(0, (4, 3)), lw=0.6, zorder=3)
        ax.plot(med, horizon, color='#15152a', lw=0.6, zorder=4)
        ax.set_xlim(*xlims[r])
        ax.set_ylim(0, 24)
        ax.set_xticks(xticks[r])
        ax.set_yticks(h_ticks)
        ax.yaxis.tick_right()
        ax.grid(color='#e4e4e4', lw=0.5)
        ax.set_axisbelow(True)
        ax.tick_params(labelsize=5.3, length=1.5, width=0.4, direction='in', colors='#333333')
        ax.tick_params(axis='x', pad=1.5)
        ax.tick_params(axis='y', pad=2.5)
        for lbl in ax.get_xticklabels():
            lbl.set_rotation(90)
        for lbl in ax.get_yticklabels():
            lbl.set_rotation(90)
            lbl.set_va('center')
        for s in ax.spines.values():
            s.set_color('#8a8a8a')
            s.set_linewidth(0.6)
        # y label of the original page (turned upside down here)
        ax.set_xlabel(var_labels[r], rotation=180, family='cmr10', fontsize=7.3,
                      labelpad=0.5, linespacing=0.95)
    fig.text(18 / W, 1 - (top + ph / 2) / H, col_titles[blk[2:]], rotation=90,
             ha='center', va='center', family='cmr10', fontsize=11.5)

fig.savefig('out.png', dpi=100)
